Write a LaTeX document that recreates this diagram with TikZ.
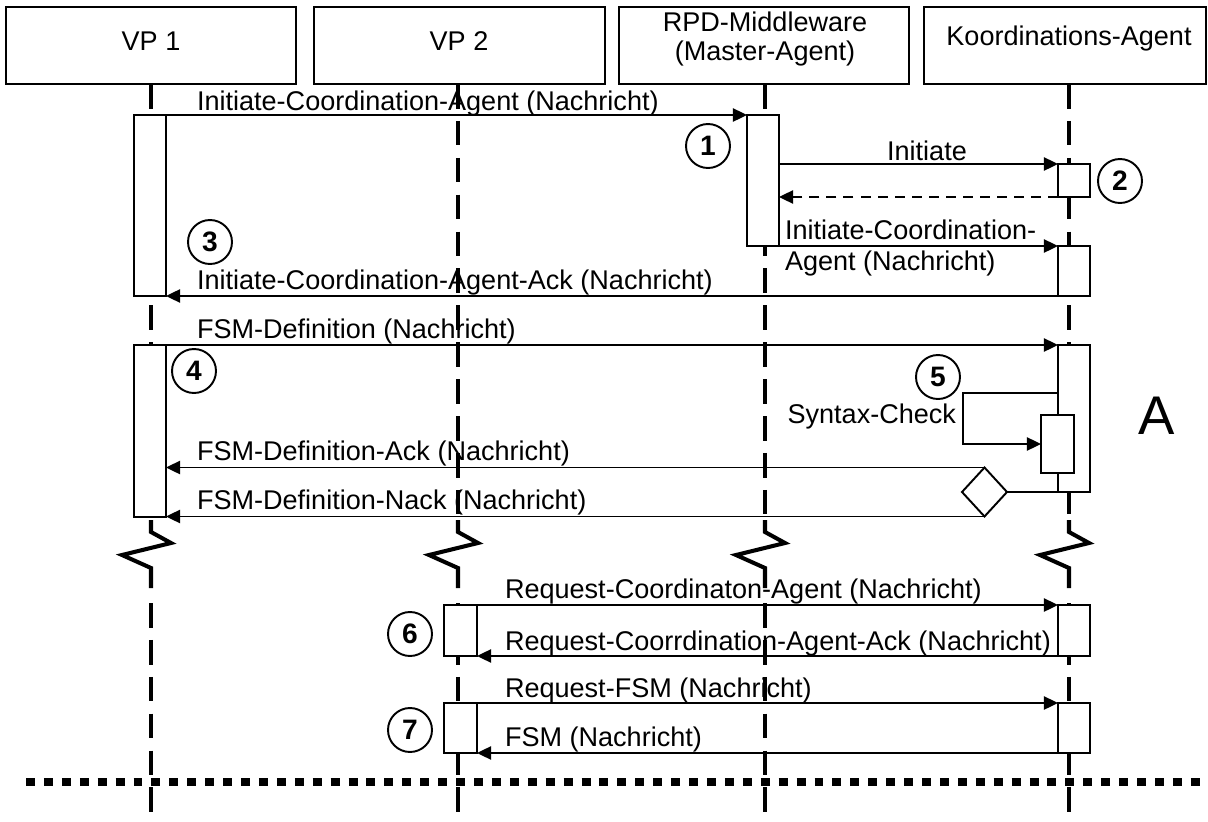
\documentclass[tikz,border=0pt]{standalone}
\usepackage{fontspec}
\setmainfont{Liberation Sans}
\usetikzlibrary{arrows.meta,shapes.geometric}
\begin{document}
\begin{tikzpicture}[x=0.02cm,y=-0.02cm,
  every node/.style={font=\fontsize{15.4}{18}\selectfont, outer sep=0},
  head/.style={draw, line width=1.2pt, inner sep=0, anchor=north west, minimum height=1.54cm},
  act/.style={draw, fill=white, line width=1.2pt, inner sep=0, anchor=north west, minimum width=0.64cm},
  msg/.style={line width=1.1pt, -{Triangle[length=8pt,width=7.5pt]}},
  reply/.style={msg, dash pattern=on 5.7pt off 4pt},
  plain/.style={line width=1.1pt},
  lbl/.style={anchor=base west, inner sep=0},
  ttl/.style={anchor=base, inner sep=0},
  life/.style={line width=2.3pt, dash pattern=on 14pt off 7pt},
  brk/.style={line width=2.3pt},
  num/.style={draw, circle, fill=white, line width=1.1pt, minimum size=0.88cm, inner sep=0,
    font=\fontsize{16}{18}\bfseries\selectfont},
  dots/.style={line width=5.1pt, dash pattern=on 5.1pt off 5.1pt},
]
\useasboundingbox (0,0) rectangle (1208,822);

% participant heads
\node[head, minimum width=5.8cm]  (h1) at (6,7) {};
\node[head, minimum width=5.82cm] (h2) at (314,7) {};
\node[head, minimum width=5.8cm]  (h3) at (619,7) {};
\node[head, minimum width=5.64cm] (h4) at (924,7) {};
\node[ttl] (h1t) at (151,50) {VP 1};
\node[ttl] (h2t) at (459,50) {VP 2};
\node[ttl] (h3t) at (765,31) {RPD-Middleware};
\node[ttl] (h3u) at (765,60) {(Master-Agent)};
\node[ttl] (h4t) at (1069,45) {Koordinations-Agent};

% message labels
\node[lbl] (t1)  at (197,110) {Initiate-Coordination-Agent (Nachricht)};
\node[ttl] (t2)  at (927,160) {Initiate};
\node[lbl] (t3a) at (785,239) {Initiate-Coordination-};
\node[lbl] (t3b) at (785,270) {Agent (Nachricht)};
\node[lbl] (t4)  at (197,289) {Initiate-Coordination-Agent-Ack (Nachricht)};
\node[lbl] (t5)  at (197,338) {FSM-Definition (Nachricht)};
\node[anchor=base east, inner sep=0] (t6) at (956,423) {Syntax-Check};
\node[lbl] (t7)  at (197,460) {FSM-Definition-Ack (Nachricht)};
\node[lbl] (t8)  at (197,509) {FSM-Definition-Nack (Nachricht)};
\node[lbl] (t9)  at (505,598) {Request-Coordinaton-Agent (Nachricht)};
\node[lbl] (t10) at (505,650) {Request-Coorrdination-Agent-Ack (Nachricht)};
\node[lbl] (t11) at (505,697) {Request-FSM (Nachricht)};
\node[lbl] (t12) at (505,746) {FSM (Nachricht)};
\node[anchor=base west, inner sep=0, font=\fontsize{31}{36}\selectfont] (tA) at (1138,434) {A};

% lifelines with break marks
\foreach \n/\x in {1/151, 2/458, 3/765, 4/1069} {
  \coordinate (b\n) at (\x,520);
  \coordinate (r\n) at (\x,603);
  \coordinate (e\n) at (\x,822);
  \draw[life] (h\n.south -| b\n) -- (b\n);
  \draw[brk] (b\n) -- ++(0,12) -- ++(20,11) -- ++(-49,12) -- ++(29,13) -- ++(0,20);
  \draw[life] (r\n) -- (e\n);
}

% end-of-sequence separator
\coordinate (dl) at (26,782);
\coordinate (dr) at (1208,782);
\draw[dots] (dl) -- (dr);

% activation bars
\node[act, minimum height=3.62cm] (vp1a) at (134,115) {};
\node[act, minimum height=3.44cm] (vp1b) at (134,345) {};
\node[act, minimum height=2.62cm] (rpd)  at (747,115) {};
\node[act, minimum height=0.66cm] (k1)   at (1058,164) {};
\node[act, minimum height=1.0cm]  (k2)   at (1058,246) {};
\node[act, minimum height=2.94cm] (k3)   at (1058,345) {};
\node[act, minimum height=1.16cm, minimum width=0.66cm] (kin) at (1041,415) {};
\node[act, minimum height=1.02cm, minimum width=0.66cm] (vp2c) at (444,605) {};
\node[act, minimum height=1.02cm] (k4)   at (1058,605) {};
\node[act, minimum height=1.0cm, minimum width=0.66cm]  (vp2d) at (444,703) {};
\node[act, minimum height=1.0cm]  (k5)   at (1058,703) {};

% messages
\draw[msg] (vp1a.north east) -- (rpd.north west);
\draw[msg] (k1.north west -| rpd.east) -- (k1.north west);
\draw[reply] (k1.south west) -- (k1.south west -| rpd.east);
\draw[msg] (rpd.south east) -- (k2.north west);
\draw[msg] (k2.south west) -- (k2.south west -| vp1a.east);
\draw[msg] (vp1b.north east) -- (k3.north west);

% syntax check on the coordination agent
\coordinate (sc) at (963,393);
\draw[msg] (sc -| k3.west) -- (sc) -- (sc |- kin.west) -- (kin.west);

% decision with its two answers
\node[draw, diamond, fill=white, line width=1.1pt, inner sep=0,
      minimum width=0.9cm, minimum height=0.98cm] (dia) at (984.5,492) {};
\draw[plain] (dia.east) -- (k3.south west);
\draw[msg] (dia.north) -- (dia.north -| vp1b.east);
\draw[msg] (dia.south) -- (dia.south -| vp1b.east);

\draw[msg] (vp2c.north east) -- (k4.north west);
\draw[msg] (k4.south west) -- (vp2c.south east);
\draw[msg] (vp2d.north east) -- (k5.north west);
\draw[msg] (k5.south west) -- (vp2d.south east);

% step numbers
\node[num] (c1) at (708,146) {1};
\node[num] (c2) at (1120,181) {2};
\node[num] (c3) at (210,242) {3};
\node[num] (c4) at (194,371) {4};
\node[num] (c5) at (938,377) {5};
\node[num] (c6) at (410,634) {6};
\node[num] (c7) at (410,730) {7};
\end{tikzpicture}
\end{document}
